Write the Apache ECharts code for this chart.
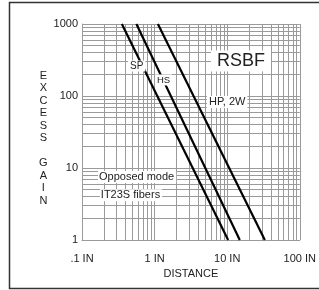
<!DOCTYPE html>
<html>
<head>
<meta charset="utf-8">
<script src="https://cdn.jsdelivr.net/npm/echarts@6/dist/echarts.min.js"></script>
<style>
  html, body { margin: 0; padding: 0; background: #fff; }
  #chart { width: 319px; height: 290px; }
</style>
</head>
<body>
<div id="chart"></div>
<script>
// curves: [distance (in), excess gain] at both ends
var spLine = [[0.354, 1000], [10.3, 1]];
var hsLine = [[0.561, 1000], [14.9, 1]];
var hpLine = [[1.11, 1000], [33, 1]];

var xTickLabels = { '0.1': '.1 IN', '1': '1 IN', '10': '10 IN', '100': '100 IN' };
var yTickLabels = { '1': '1', '10': '10', '100': '100', '1000': '1000' };

// log paper grid lines (2..9 of each decade)
var xGrid = [0.2, 0.3, 0.4, 0.5, 0.6, 0.7, 0.8, 0.9, 2, 3, 4, 5, 6, 7, 8, 9, 20, 30, 40, 50, 60, 70, 80, 90];
var yGrid = [2, 3, 4, 5, 6, 7, 8, 9, 20, 30, 40, 50, 60, 70, 80, 90, 200, 300, 400, 500, 600, 700, 800, 900];

// text notes: [label, x, y, font size]
var notes = [
    ['SP', 0.567, 261, 10],
    ['HS', 1.33, 167, 9.5],
    ['HP, 2W', 10, 82.6, 11],
    ['RSBF', 15.5, 306, 18]
];
var leftNotes = [
    ['Opposed mode', 0.166, 7.5],
    ['IT23S fibers', 0.176, 4.2]
];

var myChart = echarts.init(document.getElementById('chart'));

var gridColor = '#9a9a9a';
var gridMarks = [];
xGrid.forEach(function (v) { gridMarks.push({ xAxis: v }); });
yGrid.forEach(function (v) { gridMarks.push({ yAxis: v }); });

function curve(name, data) {
    return {
        name: name,
        type: 'line',
        data: data,
        symbol: 'none',
        z: 3,
        lineStyle: { color: '#000', width: 2.2 }
    };
}

var notePoints = notes.map(function (n) {
    return {
        coord: [n[1], n[2]],
        label: {
            formatter: n[0],
            fontSize: n[3],
            padding: n[3] > 12 ? [2, 6, 1, 6] : [1, 2, 0, 2]
        }
    };
}).concat(leftNotes.map(function (n) {
    return {
        coord: [n[1], n[2]],
        label: { formatter: n[0], fontSize: 11, position: 'right', distance: 0, padding: [1, 2, 0, 1] }
    };
}));

myChart.setOption({
    animation: false,
    textStyle: { fontFamily: 'Liberation Sans, Arial, sans-serif' },
    grid: { left: 82, right: 18, top: 24, bottom: 50 },
    graphic: [{
        type: 'rect',
        shape: { x: 9.5, y: 2.5, width: 330, height: 286 },
        style: { fill: null, stroke: '#333', lineWidth: 1.5 },
        silent: true
    }],
    xAxis: {
        type: 'log',
        logBase: 10,
        min: 0.1,
        max: 100,
        name: 'DISTANCE',
        nameLocation: 'middle',
        nameGap: 22,
        nameTextStyle: { fontSize: 11, color: '#222' },
        axisLine: { lineStyle: { color: gridColor } },
        axisTick: { show: false },
        axisLabel: {
            fontSize: 11,
            color: '#222',
            margin: 13,
            formatter: function (v) { return xTickLabels[String(+v.toPrecision(3))] || ''; }
        },
        splitLine: { show: true, lineStyle: { color: gridColor, width: 1 } }
    },
    yAxis: {
        type: 'log',
        logBase: 10,
        min: 1,
        max: 1000,
        name: '\nE\nX\nC\nE\nS\nS\n\nG\nA\nI\nN',
        nameLocation: 'middle',
        nameRotate: 0,
        nameGap: 36,
        nameTextStyle: { fontSize: 11, color: '#222', lineHeight: 12.5, align: 'center' },
        axisLine: { show: true, lineStyle: { color: gridColor } },
        axisTick: { show: false },
        axisLabel: {
            fontSize: 11,
            color: '#222',
            margin: 4,
            formatter: function (v) { return yTickLabels[String(+v.toPrecision(3))] || ''; }
        },
        splitLine: { show: true, lineStyle: { color: gridColor, width: 1 } }
    },
    series: [{
        name: 'grid',
        type: 'line',
        data: [],
        z: 1,
        markLine: {
            silent: true,
            z: 1,
            symbol: 'none',
            label: { show: false },
            lineStyle: { color: gridColor, width: 1, type: 'solid' },
            data: gridMarks
        }
    },
        curve('SP', spLine),
        curve('HS', hsLine),
        curve('HP, 2W', hpLine),
    {
        name: 'notes',
        type: 'line',
        data: [],
        z: 5,
        markPoint: {
            silent: true,
            symbol: 'circle',
            symbolSize: 0,
            z: 5,
            label: {
                show: true,
                position: 'inside',
                color: '#222',
                backgroundColor: '#fff',
                fontFamily: 'Liberation Sans, Arial, sans-serif'
            },
            data: notePoints
        }
    }]
});
</script>
</body>
</html>
